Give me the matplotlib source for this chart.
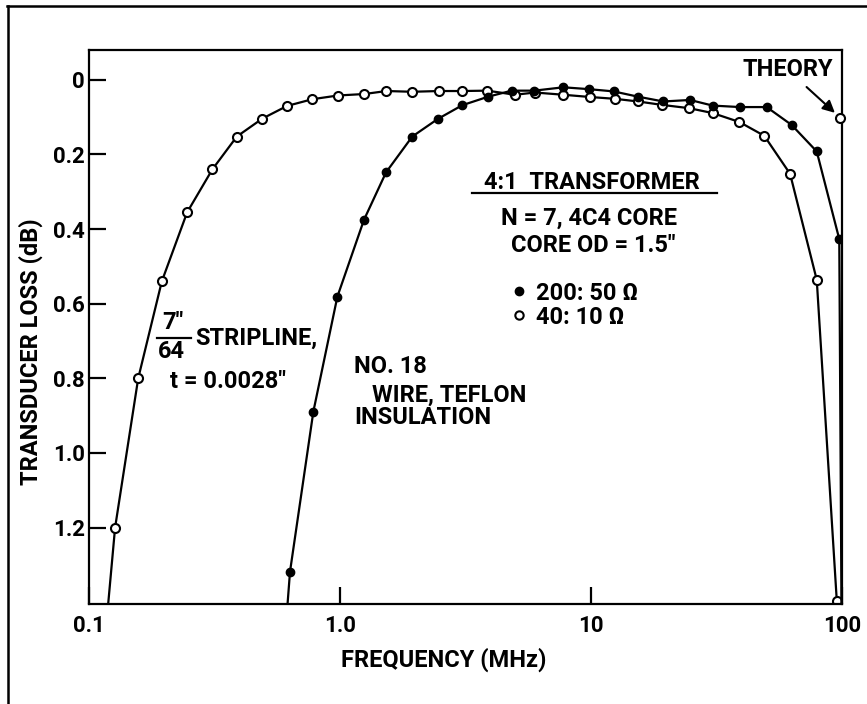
import matplotlib
matplotlib.use("Agg")
from matplotlib import pyplot as plt
from matplotlib.lines import Line2D

plt.rcParams["font.family"] = ["Roboto", "DejaVu Sans"]
plt.rcParams["font.weight"] = "bold"

# 40:10 ohm, 7/64" stripline (open circles); first point is the curve tail only
open_f = [0.119, 0.127, 0.157, 0.195, 0.246, 0.31, 0.388, 0.49, 0.615, 0.775,
          0.98, 1.25, 1.53, 1.94, 2.48, 3.05, 3.86, 4.98, 5.98, 7.76,
          9.9, 12.5, 15.4, 19.1, 24.6, 30.5, 39.0, 49.0, 62.1, 79.3, 95.3]
open_db = [1.41, 1.20, 0.80, 0.54, 0.355, 0.24, 0.152, 0.104, 0.070, 0.052,
           0.042, 0.038, 0.030, 0.032, 0.030, 0.030, 0.029, 0.040, 0.034, 0.040,
           0.046, 0.051, 0.058, 0.067, 0.076, 0.089, 0.113, 0.150, 0.252, 0.536, 1.396]

# 200:50 ohm, No. 18 wire (filled circles); first and last points are tails only
filled_f = [0.617, 0.632, 0.783, 0.976, 1.246, 1.525, 1.94, 2.45, 3.07, 3.90,
            4.83, 5.94, 7.76, 9.82, 12.3, 15.35, 19.4, 24.8, 30.5, 39.2,
            50.1, 63.0, 79.3, 97.5, 99.5]
filled_db = [1.41, 1.318, 0.889, 0.581, 0.375, 0.248, 0.152, 0.105, 0.068, 0.045,
             0.029, 0.029, 0.020, 0.025, 0.031, 0.045, 0.058, 0.054, 0.069, 0.073,
             0.073, 0.121, 0.192, 0.427, 1.41]

theory_f = [98.2]
theory_db = [0.101]

yticks = [0, 0.2, 0.4, 0.6, 0.8, 1.0, 1.2]
ytick_labels = ["0", "0.2", "0.4", "0.6", "0.8", "1.0", "1.2"]
xticks = [0.1, 1.0, 10, 100]
xtick_labels = ["0.1", "1.0", "10", "100"]

fig = plt.figure(figsize=(8.67, 7.04), dpi=100)
ax = fig.add_axes([0.1027, 0.142, 0.8685, 0.787])

ax.plot(open_f, open_db, color="black", lw=1.6, marker="o", ms=6.5,
        mfc="white", mec="black", mew=1.5,
        markevery=list(range(1, len(open_f))), label="40: 10 \u03a9")
ax.plot(filled_f, filled_db, color="black", lw=1.6, marker="o", ms=6,
        mfc="black", mec="black",
        markevery=list(range(1, len(filled_f) - 1)), label="200: 50 \u03a9")
ax.plot(theory_f, theory_db, ls="none", marker="o", ms=6.5, mfc="white",
        mec="black", mew=1.5, clip_on=False, zorder=5)

ax.set_xscale("log")
ax.set_xlim(0.1, 100)
ax.set_ylim(1.405, -0.08)
ax.set_xticks(xticks, xtick_labels)
ax.set_yticks(yticks, ytick_labels)
ax.minorticks_off()
ax.tick_params(direction="in", length=12, width=1.6, labelsize=16,
               top=False, right=False)
ax.tick_params(axis="x", pad=8)
ax.tick_params(axis="y", pad=3)
for sp in ax.spines.values():
    sp.set_linewidth(1.6)

fs = 17
ax.set_ylabel("TRANSDUCER LOSS (dB)", fontsize=fs, fontweight="bold", va="center")
ax.yaxis.set_label_coords(-0.077, 0.455)
ax.set_xlabel("FREQUENCY (MHz)", fontsize=fs, fontweight="bold", va="center")
ax.xaxis.set_label_coords(0.471, -0.101)

ax.annotate("THEORY", xy=(theory_f[0], theory_db[0]), xycoords="data",
            xytext=(0.928, 0.964), textcoords="axes fraction",
            ha="center", va="center", fontsize=fs, fontweight="bold",
            arrowprops=dict(arrowstyle="-|>", color="black", lw=1.5,
                            mutation_scale=18, shrinkA=3, shrinkB=5))

ax.text(0.668, 0.760, "4:1  TRANSFORMER", transform=ax.transAxes,
        ha="center", va="center", fontsize=fs, fontweight="bold")
ax.plot([0.509, 0.834], [0.742, 0.742], transform=ax.transAxes,
        color="black", lw=1.6)
ax.text(0.664, 0.697, "N = 7, 4C4 CORE", transform=ax.transAxes,
        ha="center", va="center", fontsize=fs, fontweight="bold")
ax.text(0.670, 0.648, "CORE OD = 1.5\"", transform=ax.transAxes,
        ha="center", va="center", fontsize=fs, fontweight="bold")

handles, labels = ax.get_legend_handles_labels()
proxies = [Line2D([], [], ls="none", marker="o", ms=6, mfc="black", mec="black"),
           Line2D([], [], ls="none", marker="o", ms=6, mfc="white", mec="black", mew=1.5)]
ax.legend(proxies, [labels[1], labels[0]], loc="upper left",
          bbox_to_anchor=(0.559, 0.582), frameon=False,
          handlelength=0.8, handletextpad=0.3, labelspacing=0.05,
          borderpad=0, borderaxespad=0, prop={"weight": "bold", "size": fs})

ax.text(0.1116, 0.509, "7\"", transform=ax.transAxes,
        ha="center", va="center", fontsize=fs, fontweight="bold")
ax.plot([0.0903, 0.1355], [0.481, 0.481], transform=ax.transAxes,
        color="black", lw=1.6)
ax.text(0.109, 0.455, "64", transform=ax.transAxes,
        ha="center", va="center", fontsize=fs, fontweight="bold")
ax.text(0.1408, 0.480, "STRIPLINE,", transform=ax.transAxes,
        ha="left", va="center", fontsize=fs, fontweight="bold")
ax.text(0.184, 0.401, "t = 0.0028\"", transform=ax.transAxes,
        ha="center", va="center", fontsize=fs, fontweight="bold")

ax.text(0.352, 0.428, "NO. 18", transform=ax.transAxes,
        ha="left", va="center", fontsize=fs, fontweight="bold")
ax.text(0.376, 0.377, "WIRE, TEFLON", transform=ax.transAxes,
        ha="left", va="center", fontsize=fs, fontweight="bold")
ax.text(0.352, 0.336, "INSULATION", transform=ax.transAxes,
        ha="left", va="center", fontsize=fs, fontweight="bold")

# outer frame (top and left edges of the figure box)
fig.add_artist(Line2D([7 / 867, 1], [1 - 6 / 704, 1 - 6 / 704],
                      transform=fig.transFigure, color="black", lw=1.8))
fig.add_artist(Line2D([8 / 867, 8 / 867], [0, 1 - 6 / 704],
                      transform=fig.transFigure, color="black", lw=1.8))

fig.savefig("out.png", dpi=100)
